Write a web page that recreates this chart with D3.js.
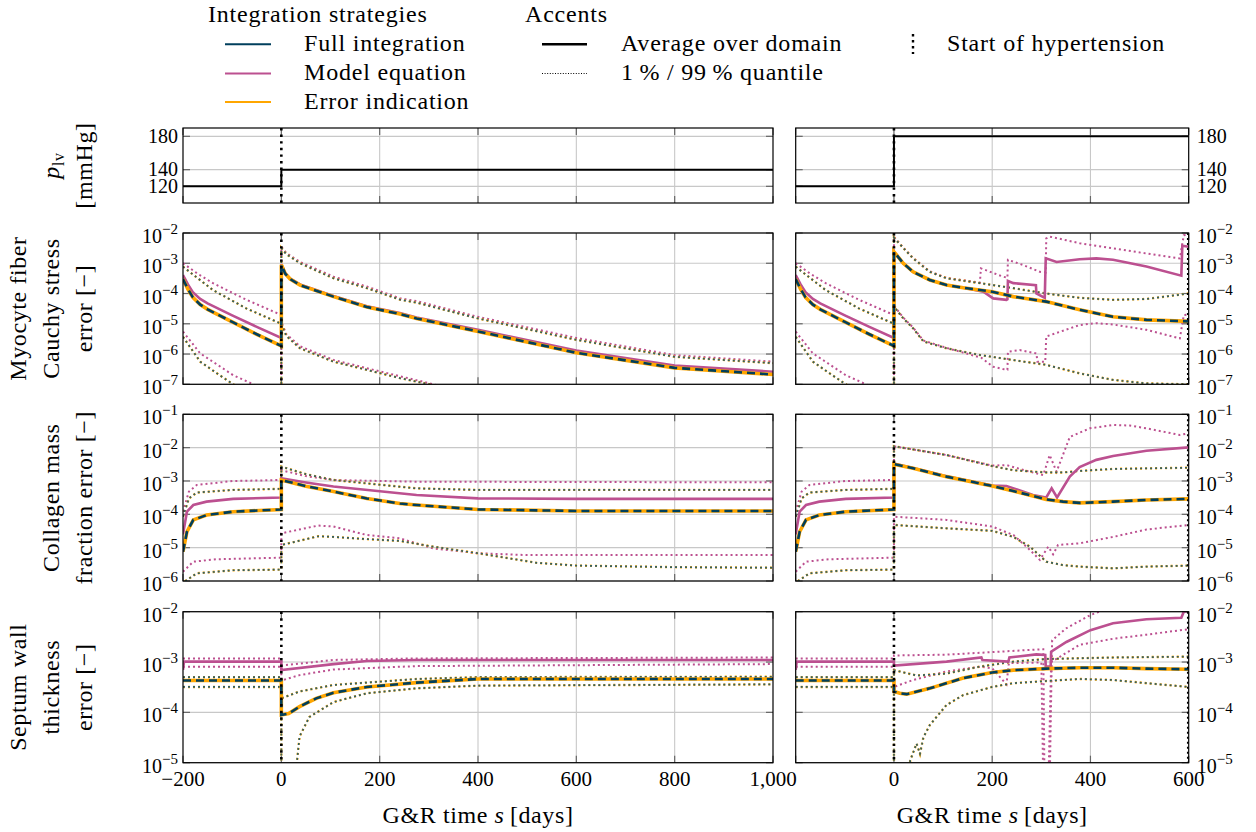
<!DOCTYPE html>
<html><head><meta charset="utf-8">
<script src="https://cdn.jsdelivr.net/npm/d3@7"></script>
<style>body{margin:0;background:#fff}svg{display:block}svg text{font-family:"Liberation Serif","Times New Roman",serif}</style>
</head><body>
<svg id="c" width="1256" height="832"></svg>
<script>
// ---------------- DATA (day, value) ----------------
const pressLeft  = [[-200,120],[0,120],[0,140],[1000,140]];
const pressRight = [[-200,120],[0,120],[0,180],[600,180]];
const pressTicks = [120,140,180];

// Myocyte fiber Cauchy stress error
const myoPreFullAvg  = [[-200,3.0e-4],[-190,1.4e-4],[-180,7.5e-5],[-165,4.3e-5],[-150,3.0e-5],[-100,1.15e-5],[-50,4.5e-6],[0,1.85e-6]];
const myoPreModelAvg = [[-200,4.1e-4],[-190,2.0e-4],[-180,1.1e-4],[-165,6.6e-5],[-150,4.7e-5],[-100,1.9e-5],[-50,7.9e-6],[0,3.4e-6]];
const myoPreFullHi   = [[-200,7.7e-4],[-170,3.2e-4],[-139,1.3e-4],[-71,3.2e-5],[0,1.0e-5]];
const myoPreModelHi  = [[-200,1.0e-3],[-170,4.5e-4],[-139,2.2e-4],[-71,6.2e-5],[0,1.95e-5]];
const myoPreFullLo   = [[-200,3.7e-6],[-165,5.6e-7],[-131,2.3e-7],[-98,1.0e-7],[-60,4e-8],[0,2e-8]];
const myoPreModelLo  = [[-200,5.5e-6],[-165,1.05e-6],[-98,2.0e-7],[-57,1.0e-7],[-30,5e-8],[0,2e-8]];

const myoPostLFullAvg  = [[0,9e-4],[8,4.5e-4],[18,3.0e-4],[38,1.9e-4],[106,7.9e-5],[174,3.6e-5],[241,2.1e-5],[275,1.5e-5],[400,5.6e-6],[600,1.1e-6],[800,3.5e-7],[1000,2.1e-7]];
const myoPostLModelAvg = [[0,9.5e-4],[8,4.7e-4],[18,3.1e-4],[38,2.0e-4],[106,8.3e-5],[174,3.8e-5],[241,2.25e-5],[275,1.6e-5],[400,6.3e-6],[600,1.3e-6],[800,4.2e-7],[1000,2.6e-7]];
const myoPostLFullHi   = [[0,3.2e-3],[10,2.0e-3],[38,1.0e-3],[106,3.2e-4],[174,1.5e-4],[241,6.3e-5],[275,5.0e-5],[400,1.5e-5],[600,2.95e-6],[800,8.1e-7],[1000,5.0e-7]];
const myoPostLModelHi  = [[0,3.5e-3],[10,2.2e-3],[38,1.1e-3],[106,3.6e-4],[174,1.7e-4],[241,7.0e-5],[275,5.6e-5],[400,1.7e-5],[600,3.4e-6],[800,9.2e-7],[1000,5.6e-7]];
const myoPostLFullLo   = [[0,1.0e-5],[10,4.0e-6],[38,1.55e-6],[106,5.6e-7],[174,3.0e-7],[241,1.6e-7],[302,1.0e-7],[350,6e-8]];
const myoPostLModelLo  = [[0,1.15e-5],[10,4.6e-6],[38,1.8e-6],[106,6.4e-7],[174,3.4e-7],[241,1.85e-7],[310,1.0e-7],[360,6e-8]];

const myoPostRFullAvg  = [[0,2.4e-3],[19,1.0e-3],[39,5.2e-4],[73,2.8e-4],[107,1.9e-4],[141,1.55e-4],[200,1.15e-4],[243,7.9e-5],[310,5.4e-5],[378,2.9e-5],[446,1.7e-5],[514,1.35e-5],[600,1.2e-5]];
const myoPostRModelAvg = [[0,2.4e-3],[19,1.0e-3],[39,5.2e-4],[73,2.8e-4],[107,1.9e-4],[141,1.55e-4],[182,1.15e-4],[202,6.9e-5],[229,6.2e-5],[231,6.5e-5],[232,2.6e-4],[243,2.2e-4],[289,1.9e-4],[290,1.0e-4],[307,7.2e-5],[309,1.45e-3],[331,1.1e-3],[378,1.35e-3],[412,1.45e-3],[446,1.3e-3],[514,7.8e-4],[585,3.9e-4],[587,3.8e-3],[600,3.5e-3]];
const myoPostRFullHi   = [[0,7e-3],[19,3.2e-3],[39,1.45e-3],[73,5.2e-4],[107,3.2e-4],[175,2.2e-4],[243,1.5e-4],[310,1.0e-4],[378,7.2e-5],[446,6.2e-5],[514,6.6e-5],[600,1.0e-4]];
const myoPostRModelHi  = [[0,7.5e-3],[19,3.3e-3],[39,1.5e-3],[73,5.4e-4],[107,3.3e-4],[175,2.3e-4],[177,6.8e-4],[222,3.6e-4],[231,3.3e-4],[232,1.3e-3],[263,8.7e-4],[297,5.2e-4],[309,5.0e-4],[310,6.6e-3],[317,7.6e-3],[378,4.6e-3],[446,3.1e-3],[514,2.1e-3],[582,1.45e-3],[590,8.5e-3],[600,8.9e-3]];
const myoPostRFullLo   = [[0,3.7e-5],[19,1.5e-5],[39,7.1e-6],[60,2.6e-6],[107,1.55e-6],[175,9.3e-7],[243,6.3e-7],[310,4.4e-7],[378,2.3e-7],[446,1.4e-7],[514,1.07e-7],[600,1.0e-7]];
const myoPostRModelLo  = [[0,4e-5],[19,1.6e-5],[39,7.5e-6],[60,2.8e-6],[107,1.6e-6],[178,7.5e-7],[202,3.8e-7],[229,3.0e-7],[231,3.0e-7],[232,1.2e-6],[256,1.35e-6],[290,1.05e-6],[292,5.6e-7],[308,5.6e-7],[310,3.8e-6],[378,9.1e-6],[412,1.05e-5],[446,9.5e-6],[514,6.3e-6],[582,3.3e-6],[590,1.95e-5],[600,2e-5]];
const myoTickExp = [-7,-6,-5,-4,-3,-2];

// Collagen mass fraction error
const colPreFullAvg  = [[-200,7.6e-6],[-192,3.0e-5],[-179,6.8e-5],[-152,9.5e-5],[-98,1.2e-4],[0,1.4e-4]];
const colPreModelAvg = [[-200,2.5e-5],[-192,1.2e-4],[-179,1.9e-4],[-152,2.4e-4],[-98,2.9e-4],[0,3.2e-4]];
const colPreFullHi   = [[-200,8.5e-5],[-188,3.0e-4],[-172,4.5e-4],[-98,5.4e-4],[0,5.8e-4]];
const colPreModelHi  = [[-200,1.2e-4],[-188,4.8e-4],[-172,7.6e-4],[-98,1.0e-3],[0,1.07e-3]];
const colPreFullLo   = [[-200,5e-7],[-195,1.0e-6],[-172,1.7e-6],[-98,2.1e-6],[0,2.2e-6]];
const colPreModelLo  = [[-200,1.9e-6],[-179,3.8e-6],[-131,4.5e-6],[0,5.0e-6]];

const colPostLFullAvg  = [[0,1.07e-3],[50,7e-4],[106,4.8e-4],[174,3.0e-4],[241,2.1e-4],[275,1.9e-4],[400,1.4e-4],[600,1.26e-4],[1000,1.26e-4]];
const colPostLModelAvg = [[0,1.2e-3],[50,9e-4],[106,6.8e-4],[275,3.8e-4],[400,3.0e-4],[600,2.9e-4],[1000,2.9e-4]];
const colPostLFullHi   = [[0,2.7e-3],[50,1.6e-3],[106,1.07e-3],[275,6.0e-4],[400,5.4e-4],[1000,5.4e-4]];
const colPostLModelHi  = [[0,2.1e-3],[50,1.4e-3],[106,1.07e-3],[275,9.5e-4],[1000,9.1e-4]];
const colPostLFullLo   = [[0,1.2e-5],[75,2.2e-5],[106,2.1e-5],[174,1.8e-5],[241,1.6e-5],[309,1.07e-5],[400,6.8e-6],[520,3.5e-6],[600,2.9e-6],[800,2.6e-6],[1000,2.5e-6]];
const colPostLModelLo  = [[0,2.7e-5],[75,4.6e-5],[106,4.3e-5],[174,2.4e-5],[241,1.9e-5],[309,9.5e-6],[400,6.8e-6],[500,6.0e-6],[1000,6.0e-6]];

const colPostRFullAvg  = [[0,3.2e-3],[39,2.4e-3],[107,1.35e-3],[200,7.1e-4],[243,5.0e-4],[310,2.8e-4],[344,2.4e-4],[378,2.2e-4],[446,2.4e-4],[514,2.7e-4],[600,2.9e-4]];
const colPostRModelAvg = [[0,3.3e-3],[39,2.45e-3],[107,1.38e-3],[200,7.3e-4],[229,7.1e-4],[283,3.8e-4],[310,3.2e-4],[321,6.0e-4],[332,3.2e-4],[358,1.35e-3],[378,2.6e-3],[412,4.3e-3],[446,5.6e-3],[514,8.1e-3],[600,1.02e-2]];
const colPostRFullHi   = [[0,1.1e-2],[107,6.0e-3],[200,2.8e-3],[243,2.1e-3],[310,1.8e-3],[344,1.8e-3],[378,2.0e-3],[446,2.3e-3],[600,2.5e-3]];
const colPostRModelHi  = [[0,1.1e-2],[107,6.0e-3],[200,2.9e-3],[229,3.0e-3],[276,1.9e-3],[304,1.5e-3],[317,6.0e-3],[331,1.9e-3],[358,2.1e-2],[399,3.8e-2],[446,4.8e-2],[480,4.6e-2],[514,3.8e-2],[582,2.4e-2],[600,2.7e-2]];
const colPostRFullLo   = [[0,4.8e-5],[107,3.8e-5],[200,3.2e-5],[243,2.1e-5],[277,1.07e-5],[310,3.8e-6],[344,3.0e-6],[378,2.7e-6],[446,2.4e-6],[514,2.7e-6],[600,2.9e-6]];
const colPostRModelLo  = [[0,8.5e-5],[107,6.8e-5],[200,4.3e-5],[243,2.4e-5],[277,8.5e-6],[297,4.3e-6],[314,1.07e-5],[324,6.3e-6],[334,1.2e-5],[378,1.35e-5],[446,2.1e-5],[514,3.5e-5],[600,4.8e-5]];
const colTickExp = [-6,-5,-4,-3,-2,-1];

// Septum wall thickness error
const sepPreFullAvg  = [[-200,4.3e-4],[0,4.3e-4]];
const sepPreModelAvg = [[-200,7e-4],[-198,1.02e-3],[0,1.02e-3]];
const sepPreFullHi   = [[-200,5.0e-4],[0,5.0e-4]];
const sepPreModelHi  = [[-200,1.17e-3],[0,1.17e-3]];
const sepPreFullLo   = [[-200,3.2e-4],[0,3.2e-4]];
const sepPreModelLo  = [[-200,8.1e-4],[0,8.1e-4]];

const sepPostLFullAvg  = [[0,8.9e-5],[15,9.5e-5],[37,1.3e-4],[71,1.9e-4],[106,2.45e-4],[174,3.2e-4],[275,3.9e-4],[400,4.6e-4],[1000,4.6e-4]];
const sepPostLModelAvg = [[0,6.9e-4],[106,9.1e-4],[174,1.05e-3],[275,1.1e-3],[1000,1.1e-3]];
const sepPostLFullHi   = [[0,1.9e-4],[37,2.6e-4],[106,3.5e-4],[275,4.6e-4],[400,5.0e-4],[1000,5.1e-4]];
const sepPostLModelHi  = [[0,8.5e-4],[106,1.1e-3],[275,1.18e-3],[1000,1.23e-3]];
const sepPostLFullLo   = [[0,1e-6],[25,5e-6],[32,1.1e-5],[37,3.3e-5],[57,8.1e-5],[106,1.6e-4],[174,2.4e-4],[275,3.0e-4],[400,3.4e-4],[1000,3.6e-4]];
const sepPostLModelLo  = [[0,4.3e-4],[37,5.5e-4],[106,7.1e-4],[275,8.3e-4],[1000,9.1e-4]];

const sepPostRFullAvg  = [[0,2.6e-4],[12,2.4e-4],[26,2.3e-4],[73,3.0e-4],[141,4.8e-4],[200,6.2e-4],[243,6.9e-4],[310,7.4e-4],[378,7.7e-4],[446,7.7e-4],[514,7.4e-4],[600,7.2e-4]];
const sepPostRModelAvg = [[0,8.5e-4],[107,1.02e-3],[178,1.23e-3],[180,1.1e-3],[233,1.02e-3],[235,1.23e-3],[290,1.42e-3],[308,1.38e-3],[309,8.1e-4],[319,8.1e-4],[320,1.6e-3],[351,2.5e-3],[400,4.3e-3],[446,5.9e-3],[514,7.1e-3],[585,7.6e-3],[590,1.0e-2],[600,1.05e-2]];
const sepPostRFullHi   = [[0,6.9e-4],[46,5.4e-4],[107,5.9e-4],[175,8.1e-4],[243,1.02e-3],[310,1.15e-3],[446,1.23e-3],[600,1.28e-3]];
const sepPostRModelHi  = [[0,1.35e-3],[107,1.4e-3],[304,1.8e-3],[307,1e-6],[316,1e-6],[322,2.7e-3],[351,4.7e-3],[400,8.6e-3],[430,1.1e-2]];
const sepPostRFullLo   = [[0,1e-6],[30,1e-6],[33,1.1e-5],[46,2.4e-5],[53,1.5e-5],[60,3.2e-5],[73,5.6e-5],[107,1.4e-4],[141,2.2e-4],[200,3.2e-4],[243,3.8e-4],[310,4.2e-4],[378,4.6e-4],[446,4.4e-4],[514,3.8e-4],[600,3.2e-4]];
const sepPostRModelLo  = [[0,3.2e-4],[39,4.4e-4],[107,6.5e-4],[175,8.1e-4],[200,7.5e-4],[229,3.6e-4],[234,9.5e-4],[300,9.8e-4],[305,1e-6],[313,1e-6],[320,1.0e-3],[378,2.2e-3],[446,2.9e-3],[514,3.5e-3],[600,4.5e-3]];
const sepTickExp = [-5,-4,-3,-2];

const xTicksLeft  = [-200,0,200,400,600,800,1000];
const xTicksRight = [0,200,400,600];

const strategies = ["Full integration","Model equation","Error indication"];
const accents = ["Average over domain","1\u2009% / 99\u2009% quantile"];

// ---------------- DRAWING ----------------
const COL = {full:"#003f5c", model:"#bc5090", err:"#ffa600"};
const svg = d3.select("#c");
const defs = svg.append("defs");
let clipN = 0;

const columns = [
  {x0:183, x1:773, dom:[-200,1000], ticks:xTicksLeft, labels:xTicksLeft, side:"left"},
  {x0:795.7, x1:1188.7, dom:[-200,600], ticks:[-200,0,200,400,600], labels:xTicksRight, side:"right"}
];
const rows = [
  {top:128, bot:203, log:false, dom:[100,190], ticks:pressTicks},
  {top:233, bot:384.3, log:true, dom:[1e-7,1e-2], exps:myoTickExp},
  {top:414.3, bot:581, log:true, dom:[1e-6,1e-1], exps:colTickExp},
  {top:611.7, bot:762.7, log:true, dom:[1e-5,1e-2], exps:sepTickExp}
];

const groups = [
  null,
  {pre:{fa:myoPreFullAvg,ma:myoPreModelAvg,fh:myoPreFullHi,mh:myoPreModelHi,fl:myoPreFullLo,ml:myoPreModelLo},
   L:{fa:myoPostLFullAvg,ma:myoPostLModelAvg,fh:myoPostLFullHi,mh:myoPostLModelHi,fl:myoPostLFullLo,ml:myoPostLModelLo},
   R:{fa:myoPostRFullAvg,ma:myoPostRModelAvg,fh:myoPostRFullHi,mh:myoPostRModelHi,fl:myoPostRFullLo,ml:myoPostRModelLo}},
  {pre:{fa:colPreFullAvg,ma:colPreModelAvg,fh:colPreFullHi,mh:colPreModelHi,fl:colPreFullLo,ml:colPreModelLo},
   L:{fa:colPostLFullAvg,ma:colPostLModelAvg,fh:colPostLFullHi,mh:colPostLModelHi,fl:colPostLFullLo,ml:colPostLModelLo},
   R:{fa:colPostRFullAvg,ma:colPostRModelAvg,fh:colPostRFullHi,mh:colPostRModelHi,fl:colPostRFullLo,ml:colPostRModelLo}},
  {pre:{fa:sepPreFullAvg,ma:sepPreModelAvg,fh:sepPreFullHi,mh:sepPreModelHi,fl:sepPreFullLo,ml:sepPreModelLo},
   L:{fa:sepPostLFullAvg,ma:sepPostLModelAvg,fh:sepPostLFullHi,mh:sepPostLModelHi,fl:sepPostLFullLo,ml:sepPostLModelLo},
   R:{fa:sepPostRFullAvg,ma:sepPostRModelAvg,fh:sepPostRFullHi,mh:sepPostRModelHi,fl:sepPostRFullLo,ml:sepPostRModelLo}}
];

function drawPanel(ci, ri) {
  const c = columns[ci], r = rows[ri];
  const x = d3.scaleLinear().domain(c.dom).range([c.x0, c.x1]);
  const y = (r.log ? d3.scaleLog() : d3.scaleLinear()).domain(r.dom).range([r.bot, r.top]);
  const yt = r.log ? r.exps.map(e => Math.pow(10, e)) : r.ticks;
  const g = svg.append("g");
  const id = "clip" + (clipN++);
  defs.append("clipPath").attr("id", id).append("rect")
    .attr("x", c.x0).attr("y", r.top).attr("width", c.x1 - c.x0).attr("height", r.bot - r.top);

  // grid
  const gridX = c.ticks.filter(t => t !== 0 && t !== c.dom[0] && t !== c.dom[1]);
  g.selectAll(null).data(gridX).join("line")
    .attr("x1", d => x(d)).attr("x2", d => x(d)).attr("y1", r.top).attr("y2", r.bot)
    .attr("stroke", "#c8c8c8").attr("stroke-width", 1.1);
  g.selectAll(null).data(yt).join("line")
    .attr("x1", c.x0).attr("x2", c.x1).attr("y1", d => y(d)).attr("y2", d => y(d))
    .attr("stroke", "#c8c8c8").attr("stroke-width", 1.1);
  // tick marks (inside, all sides)
  const tl = 7, tc = "#666";
  g.selectAll(null).data(yt).join("line")
    .attr("x1", c.x0).attr("x2", c.x0 + tl).attr("y1", d => y(d)).attr("y2", d => y(d)).attr("stroke", tc).attr("stroke-width", 1.2);
  g.selectAll(null).data(yt).join("line")
    .attr("x1", c.x1 - tl).attr("x2", c.x1).attr("y1", d => y(d)).attr("y2", d => y(d)).attr("stroke", tc).attr("stroke-width", 1.2);
  g.selectAll(null).data(c.ticks).join("line")
    .attr("x1", d => x(d)).attr("x2", d => x(d)).attr("y1", r.top).attr("y2", r.top + tl).attr("stroke", tc).attr("stroke-width", 1.2);
  g.selectAll(null).data(c.ticks).join("line")
    .attr("x1", d => x(d)).attr("x2", d => x(d)).attr("y1", r.bot - tl).attr("y2", r.bot).attr("stroke", tc).attr("stroke-width", 1.2);

  const plot = g.append("g").attr("clip-path", `url(#${id})`);
  const line = d3.line().x(d => x(d[0])).y(d => y(d[1]));

  if (ri === 0) {
    plot.append("path").attr("d", line(ci === 0 ? pressLeft : pressRight))
      .attr("fill", "none").attr("stroke", "#000").attr("stroke-width", 2);
  } else {
    const gr = groups[ri], post = ci === 0 ? gr.L : gr.R, pre = gr.pre;
    const s = k => pre[k].concat(post[k]);
    const dotted = (data, color, w) => plot.append("path").attr("d", line(data))
      .attr("fill", "none").attr("stroke", color).attr("stroke-width", w)
      .attr("stroke-dasharray", "2,3");
    dotted(s("mh"), COL.model, 2); dotted(s("ml"), COL.model, 2);
    dotted(s("fh"), COL.err, 2.4);  dotted(s("fl"), COL.err, 2.4);
    dotted(s("fh"), "#2f5f66", 1.7); dotted(s("fl"), "#2f5f66", 1.7);
    plot.append("path").attr("d", line(s("ma"))).attr("fill", "none")
      .attr("stroke", COL.model).attr("stroke-width", 2.6);
    plot.append("path").attr("d", line(s("fa"))).attr("fill", "none")
      .attr("stroke", COL.err).attr("stroke-width", 3.6);
    plot.append("path").attr("d", line(s("fa"))).attr("fill", "none")
      .attr("stroke", COL.full).attr("stroke-width", 2.6).attr("stroke-dasharray", "8,5");
    if (ci === 1) {
      g.append("line").attr("x1", x(600) - 1).attr("x2", x(600) - 1).attr("y1", r.top).attr("y2", r.bot)
        .attr("stroke", "#000").attr("stroke-width", 1.5).attr("stroke-dasharray", "2,3");
    }
  }
  // start of hypertension
  g.append("line").attr("x1", x(0)).attr("x2", x(0)).attr("y1", r.top).attr("y2", r.bot)
    .attr("stroke", "#000").attr("stroke-width", 2.6).attr("stroke-dasharray", "2.4,4.2");
  // frame
  g.append("rect").attr("x", c.x0).attr("y", r.top).attr("width", c.x1 - c.x0).attr("height", r.bot - r.top)
    .attr("fill", "none").attr("stroke", "#000").attr("stroke-width", 1.2);

  // y tick labels
  const left = c.side === "left";
  const lab = g.selectAll(null).data(yt.map((v, i) => [v, i])).join("text")
    .attr("x", left ? c.x0 - 5 : c.x1 + 8)
    .attr("y", d => y(d[0]) + (r.log ? 10 : 6.5))
    .attr("text-anchor", left ? "end" : "start")
    .attr("font-size", 20).attr("fill", "#000");
  if (r.log) {
    lab.each(function(d) {
      const t = d3.select(this);
      t.append("tspan").text("10");
      t.append("tspan").attr("dy", -9).attr("font-size", 15).text("\u2212" + Math.abs(r.exps[d[1]]));
    });
  } else {
    lab.text(d => d[0]);
  }
  // x tick labels for last row
  if (ri === 3) {
    g.selectAll(null).data(c.labels).join("text")
      .attr("x", d => x(d)).attr("y", 786).attr("text-anchor", "middle").attr("font-size", 21)
      .text(d => d < 0 ? "\u2212" + Math.abs(d) : d3.format(",")(d));
    const tt = g.append("text").attr("x", (c.x0 + c.x1) / 2).attr("y", 823)
      .attr("text-anchor", "middle").attr("font-size", 24).attr("letter-spacing", 0.6);
    tt.append("tspan").text("G&R time ");
    tt.append("tspan").attr("font-style", "italic").text("s");
    tt.append("tspan").text("\u2009[days]");
  }
}

for (let ci = 0; ci < 2; ci++) for (let ri = 0; ri < 4; ri++) drawPanel(ci, ri);

// y axis titles
function yTitle(lines, cy) {
  const base = [26, 59, 92].slice(3 - lines.length);
  lines.forEach((l, i) => {
    const t = svg.append("text").attr("transform", `translate(${base[i]},${cy}) rotate(-90)`)
      .attr("text-anchor", "middle").attr("font-size", 24).attr("letter-spacing", 0.6);
    if (typeof l === "string") t.text(l); else l(t);
  });
}
yTitle([t => { t.append("tspan").attr("font-style", "italic").text("p");
               t.append("tspan").attr("font-size", 16).attr("dy", 5).text("lv"); },
        "[mmHg]"], 165.5);
yTitle(["Myocyte fiber", "Cauchy stress", "error [\u2212]"], 308.5);
yTitle(["Collagen mass", "fraction error [\u2212]"], 497.7);
yTitle(["Septum wall", "thickness", "error [\u2212]"], 687.2);

// ---------------- LEGEND ----------------
const lg = svg.append("g").attr("font-size", 24).attr("letter-spacing", 0.8);
lg.append("text").attr("x", 208).attr("y", 21.5).text("Integration strategies");
const rowsY = [44.3, 73.5, 102];
const stratCol = [COL.full, COL.model, COL.err];
lg.selectAll(null).data(strategies).join("line")
  .attr("x1", 225).attr("x2", 271).attr("y1", (d, i) => rowsY[i]).attr("y2", (d, i) => rowsY[i])
  .attr("stroke", (d, i) => stratCol[i]).attr("stroke-width", 2);
lg.selectAll(null).data(strategies).join("text")
  .attr("x", 304).attr("y", (d, i) => rowsY[i] + 6.5).text(d => d);

lg.append("text").attr("x", 525).attr("y", 21.5).text("Accents");
lg.append("line").attr("x1", 542).attr("x2", 587).attr("y1", rowsY[0]).attr("y2", rowsY[0])
  .attr("stroke", "#000").attr("stroke-width", 2.6);
lg.append("line").attr("x1", 542).attr("x2", 587).attr("y1", rowsY[1]).attr("y2", rowsY[1])
  .attr("stroke", "#000").attr("stroke-width", 1).attr("stroke-dasharray", "1,1.6");
lg.selectAll(null).data(accents).join("text")
  .attr("x", 621).attr("y", (d, i) => rowsY[i] + 6.5).text(d => d);

lg.append("line").attr("x1", 913).attr("x2", 913).attr("y1", 34).attr("y2", 54)
  .attr("stroke", "#000").attr("stroke-width", 2.4).attr("stroke-dasharray", "2.4,3.6");
lg.append("text").attr("x", 947).attr("y", rowsY[0] + 6.5).text("Start of hypertension");
</script>
</body></html>
